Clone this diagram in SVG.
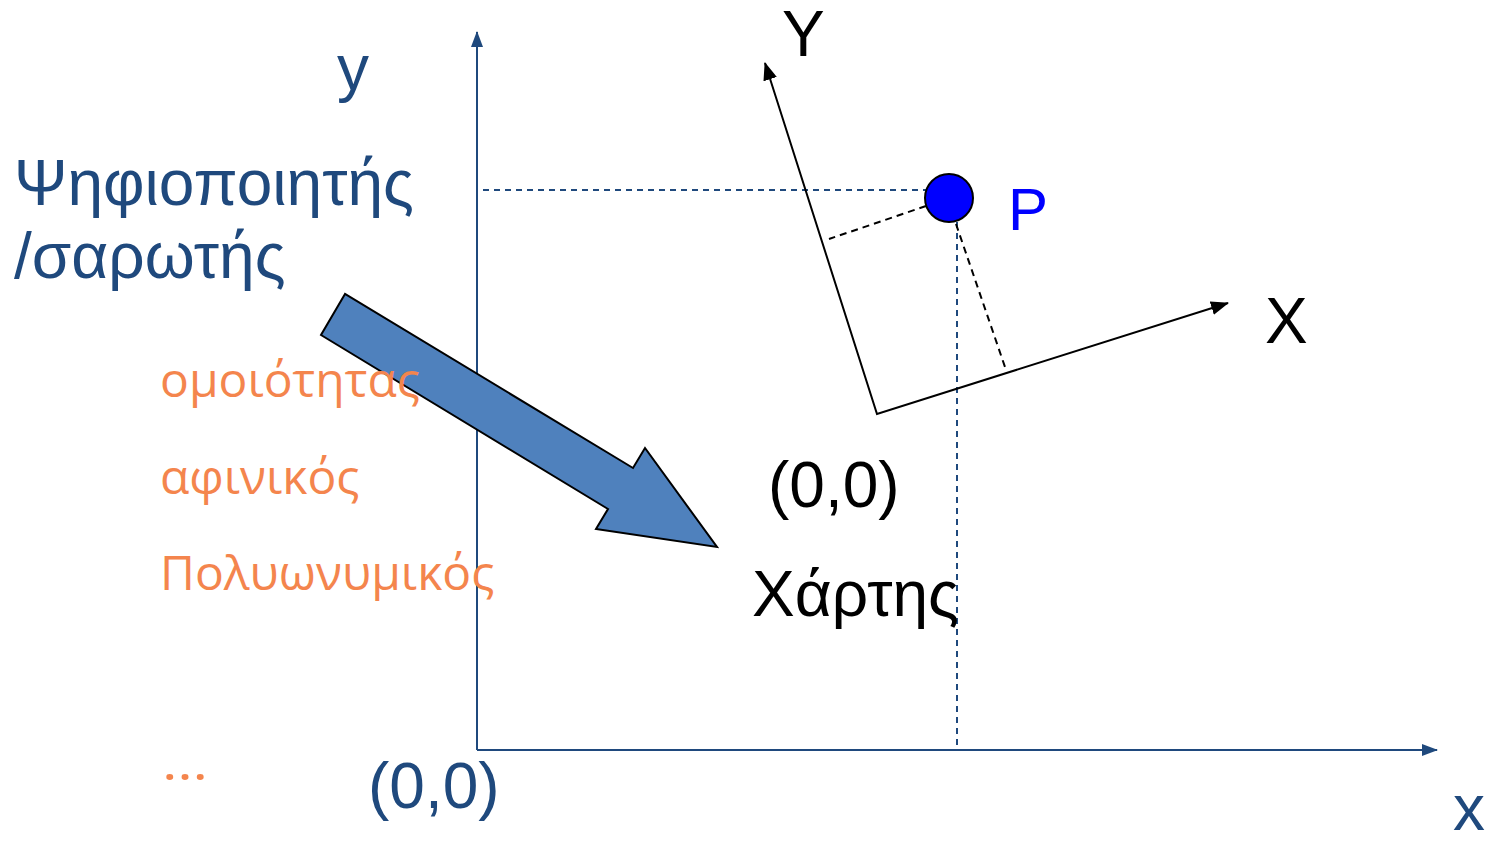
<svg xmlns="http://www.w3.org/2000/svg" width="1485" height="843" viewBox="0 0 1485 843">
<style>
.b{font-family:"Liberation Sans",Arial,sans-serif;font-size:64px;fill:#1F497D}
.k{font-family:"Liberation Sans",Arial,sans-serif;font-size:64px;fill:#000}
.o{font-family:"Open Sans","Noto Sans",sans-serif;font-size:48px;fill:#F4854D}
.ax{stroke:#1F497D;stroke-width:2;fill:none}
.dash{stroke:#1F497D;stroke-width:2;stroke-dasharray:6,5;fill:none}
.kd{stroke:#000;stroke-width:2;stroke-dasharray:7,5;fill:none}
.kl{stroke:#000;stroke-width:2;fill:none}
</style>
<defs>
<marker id="ab" markerWidth="16" markerHeight="12" refX="15" refY="6" orient="auto" markerUnits="userSpaceOnUse"><path d="M0,0 L16,6 L0,12 Z" fill="#1F497D"/></marker>
<marker id="ak" markerWidth="18" markerHeight="14" refX="17" refY="7" orient="auto-start-reverse" markerUnits="userSpaceOnUse"><path d="M0,0 L18,7 L0,14 Z" fill="#000"/></marker>
</defs>
<g id="connectors">
<line class="ax" x1="477" y1="750" x2="477" y2="32" marker-end="url(#ab)"/>
<line class="ax" x1="477" y1="750" x2="1437" y2="750" marker-end="url(#ab)"/>
<line class="dash" x1="483" y1="190" x2="926" y2="190"/>
<line class="dash" x1="957" y1="222" x2="957" y2="750"/>
<polyline class="kl" points="765,63 877,414 1228,303" marker-start="url(#ak)" marker-end="url(#ak)"/>
<line class="kd" x1="926" y1="206" x2="829" y2="239"/>
<line class="kd" x1="956" y1="224" x2="1005" y2="367"/>
</g>
<g id="bigarrow">
<polygon points="345,294 321,335 608,509 596,529 717,547 645,448 633,468" fill="#4F81BD" stroke="#000" stroke-width="2"/>
</g>
<g id="pointP">
<circle cx="949" cy="198" r="24" fill="#0000FF" stroke="#000" stroke-width="2"/>
<text x="1008" y="230" font-family="Liberation Sans,Arial,sans-serif" font-size="60" fill="#0000FF">P</text>
</g>
<g id="labels">
<text class="b" x="337" y="90">y</text>
<text class="b" x="14" y="205">Ψηφιοποιητής</text>
<text class="b" x="14" y="278">/σαρωτής</text>
<text class="o" x="160" y="397">ομοιότητας</text>
<text class="o" x="160" y="494">αφινικός</text>
<text class="o" x="160" y="590">Πολυωνυμικός</text>
<text class="o" x="162" y="780" textLength="46" lengthAdjust="spacingAndGlyphs">…</text>
<text class="b" x="368" y="808">(0,0)</text>
<text class="b" x="1453" y="830" font-size="56">x</text>
<text class="k" x="782" y="56" font-size="62">Y</text>
<text class="k" x="1265" y="343" font-size="62">X</text>
<text class="k" x="768" y="507">(0,0)</text>
<text class="k" x="752" y="616">Χάρτης</text>
</g>
</svg>
